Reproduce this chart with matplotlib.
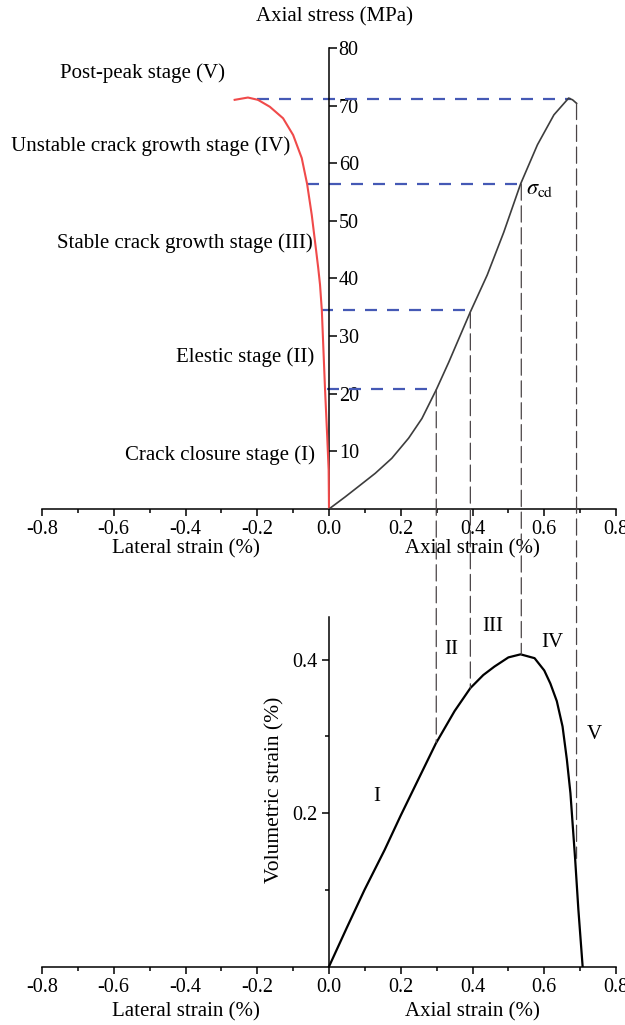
"""Stress-strain curves of a rock sample with the five deformation stages
marked, plus the matching volumetric strain curve underneath.
"""

import matplotlib
matplotlib.use("Agg")
import matplotlib.pyplot as plt
from matplotlib.patches import ConnectionPatch
from matplotlib.ticker import MultipleLocator, FormatStrFormatter, FixedLocator

# Axial strain (%) vs axial stress (MPa)
axial_strain = [0, 0.045, 0.082, 0.129, 0.175, 0.222, 0.259, 0.299, 0.334,
                0.376, 0.394, 0.441, 0.487, 0.534, 0.581, 0.627, 0.668,
                0.679, 0.69]
axial_stress = [0, 2.1, 3.9, 6.2, 8.8, 12.3, 15.7, 20.7, 25.5, 31.6, 34.2,
                40.6, 48.0, 56.4, 63.2, 68.4, 71.3, 71.0, 70.4]

# Lateral strain (%) vs axial stress (MPa)
lateral_strain = [0, -0.001, -0.005, -0.011, -0.02, -0.025, -0.03, -0.036,
                  -0.048, -0.061, -0.076, -0.1, -0.128, -0.165, -0.198,
                  -0.226, -0.263]
lateral_stress = [0, 6.8, 12.6, 20.7, 34.5, 38.9, 41.8, 44.9, 51.0, 56.4,
                  60.9, 64.9, 67.8, 69.8, 71.0, 71.4, 71.0]

# Axial strain (%) vs volumetric strain (%)
vol_axial = [0, 0.05, 0.099, 0.155, 0.2, 0.25, 0.298, 0.35, 0.394, 0.43,
             0.461, 0.5, 0.534, 0.573, 0.6, 0.617, 0.635, 0.651, 0.663,
             0.673, 0.68, 0.686, 0.695, 0.707]
vol_strain = [0, 0.051, 0.1, 0.152, 0.197, 0.245, 0.291, 0.333, 0.363,
              0.38, 0.391, 0.403, 0.407, 0.402, 0.386, 0.369, 0.346, 0.313,
              0.27, 0.226, 0.18, 0.141, 0.075, 0]

# Stage boundaries: stress level, lateral and axial strain at each threshold
threshold_stress = [20.8, 34.5, 56.4, 71.2]
threshold_lateral = [-0.006, -0.023, -0.062, -0.201]
threshold_axial = [0.296, 0.394, 0.534, 0.675]

# Vertical guides down to the volumetric curve
guide_strain = [0.299, 0.394, 0.536, 0.69]
guide_stress = [20.7, 34.2, 56.4, 70.4]
guide_vol = [0.292, 0.363, 0.407, 0.141]

stage_names = ["Crack closure stage (I)", "Elestic stage (II)",
               "Stable crack growth stage (III)",
               "Unstable crack growth stage (IV)", "Post-peak stage (V)"]
stage_name_x = [-0.04, -0.04, -0.046, -0.107, -0.291]
stage_name_y = [9.4, 26.4, 46.1, 62.9, 75.7]

stage_numerals = ["I", "II", "III", "IV", "V"]
numeral_x = [0.133, 0.342, 0.456, 0.623, 0.74]
numeral_y = [0.222, 0.413, 0.443, 0.422, 0.303]

plt.rcParams["font.family"] = ["Liberation Serif", "DejaVu Serif"]
plt.rcParams["mathtext.fontset"] = "stix"
plt.rcParams["axes.unicode_minus"] = False
plt.rcParams["font.size"] = 15

fig = plt.figure(figsize=(6.25, 10.25), dpi=100)
ax1 = fig.add_axes([0.0672, 0.5034, 0.9184, 0.4498])
ax2 = fig.add_axes([0.0672, 0.0570, 0.9184, 0.3413])

SPINE_W = 1.1
XLABEL_Y = {ax1: -0.087, ax2: -0.13}


def style_x(ax):
    ax.set_xlim(-0.8, 0.8)
    ax.xaxis.set_major_locator(MultipleLocator(0.2))
    ax.xaxis.set_minor_locator(MultipleLocator(0.1))
    ax.xaxis.set_major_formatter(FormatStrFormatter("%.1f"))
    ax.tick_params(axis="x", which="major", direction="out", length=5,
                   width=SPINE_W, pad=3, labelsize=14.5)
    ax.tick_params(axis="x", which="minor", direction="out", length=3,
                   width=SPINE_W)
    ax.spines["top"].set_visible(False)
    ax.spines["bottom"].set_linewidth(SPINE_W)
    ax.text(0.25, XLABEL_Y[ax], "Lateral strain (%)", transform=ax.transAxes,
            ha="center", va="center", fontsize=15)
    ax.text(0.75, XLABEL_Y[ax], "Axial strain (%)", transform=ax.transAxes,
            ha="center", va="center", fontsize=15)


# --- stress-strain panel ---
style_x(ax1)
ax1.set_ylim(0, 80)
ax1.spines["left"].set_visible(False)
ax1.spines["right"].set_position(("data", 0))
ax1.spines["right"].set_linewidth(SPINE_W)
ax1.yaxis.tick_right()
ax1.yaxis.set_major_locator(FixedLocator(range(10, 81, 10)))
ax1.tick_params(axis="y", direction="out", length=6, width=SPINE_W, pad=1,
                labelsize=14.5)
ax1.text(0.51, 1.067, "Axial stress (MPa)", transform=ax1.transAxes,
         ha="center", va="center", fontsize=15)

ax1.hlines(threshold_stress, threshold_lateral, threshold_axial,
           colors="#4559b5", linewidth=1.6, linestyles=(0, (5.4, 4.5)),
           zorder=2)
ax1.plot(lateral_strain, lateral_stress, color="#f04a4a", linewidth=1.5,
         zorder=3)
ax1.plot(axial_strain, axial_stress, color="#3d3d3d", linewidth=1.2, zorder=3)

for name, x, y in zip(stage_names, stage_name_x, stage_name_y):
    ax1.text(x, y, name, ha="right", va="center", fontsize=15)

ax1.text(0.55, 55.4, r"$\sigma_{\mathrm{cd}}$", ha="left", va="center",
         fontsize=16)

# --- volumetric strain panel ---
style_x(ax2)
ax2.set_ylim(0, 0.456)
ax2.spines["right"].set_visible(False)
ax2.spines["left"].set_position(("data", 0))
ax2.spines["left"].set_linewidth(SPINE_W)
ax2.yaxis.set_major_locator(FixedLocator([0.2, 0.4]))
ax2.yaxis.set_minor_locator(FixedLocator([0.1, 0.3]))
ax2.yaxis.set_major_formatter(FormatStrFormatter("%.1f"))
ax2.tick_params(axis="y", which="major", direction="out", length=5,
                width=SPINE_W, pad=3, labelsize=14.5)
ax2.tick_params(axis="y", which="minor", direction="out", length=3,
                width=SPINE_W)
ax2.text(0.406, 0.505, "Volumetric strain (%)", transform=ax2.transAxes,
         rotation=90, ha="center", va="center", fontsize=15.5)

ax2.plot(vol_axial, vol_strain, color="black", linewidth=1.6, zorder=3)

for label, x, y in zip(stage_numerals, numeral_x, numeral_y):
    ax2.text(x, y, label, ha="center", va="center", fontsize=15)

# dashed guides running from the stress curve down to the volumetric curve
for x, s, v in zip(guide_strain, guide_stress, guide_vol):
    con = ConnectionPatch(xyA=(x, s), coordsA=ax1.transData,
                          xyB=(x, v), coordsB=ax2.transData,
                          color="#4a4446", linewidth=0.9,
                          linestyle=(0, (13, 4.5)), zorder=1)
    fig.add_artist(con)

fig.savefig("out.png", dpi=100)
